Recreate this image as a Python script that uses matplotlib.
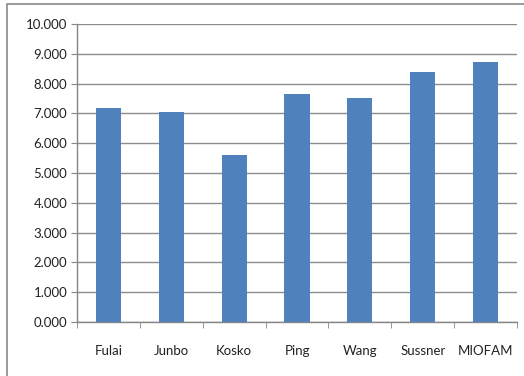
import matplotlib
matplotlib.use("Agg")
import matplotlib.pyplot as plt
from matplotlib.patches import Rectangle
from matplotlib.ticker import FixedLocator, FuncFormatter

categories = ["Fulai", "Junbo", "Kosko", "Ping", "Wang", "Sussner", "MIOFAM"]
values = [7.17, 7.04, 5.60, 7.64, 7.53, 8.40, 8.73]
yticks = [0, 1, 2, 3, 4, 5, 6, 7, 8, 9, 10]

plt.rcParams['font.family'] = ['Lato', 'DejaVu Sans']
W, H = 524, 376
fig = plt.figure(figsize=(W/100, H/100), dpi=100)
ax = fig.add_axes([77/W, 1-322/H, 440/W, 298/H])

x = list(range(len(categories)))
ax.bar(x, values, width=0.4, color="#4F81BD", zorder=3)
ax.set_xlim(-0.5, len(categories)-0.5)
ax.set_ylim(0, 10)
ax.set_yticks(yticks)
ax.yaxis.set_major_formatter(FuncFormatter(lambda v, p: f"{v:.3f}"))
ax.set_xticks(x)
ax.set_xticklabels(categories)
for lbl in ax.get_xticklabels():
    lbl.set_verticalalignment('baseline')
ax.xaxis.set_minor_locator(FixedLocator([i - 0.5 for i in range(len(categories)+1)]))
ax.tick_params(axis='x', which='major', length=0, pad=24, labelsize=9.5, colors='#222222')
ax.tick_params(axis='x', which='minor', length=4, color='#868686', direction='out')
ax.tick_params(axis='y', length=4, color='#868686', labelsize=9.5, labelcolor='#222222', pad=3)
ax.grid(axis='y', color='#8c8c8c', linewidth=1, zorder=0)
for s in ['top', 'right']:
    ax.spines[s].set_visible(False)
for s in ['left', 'bottom']:
    ax.spines[s].set_color('#868686')
    ax.spines[s].set_linewidth(1)

fig.patches.append(Rectangle((7/W, -0.1), 1.2, 1-4/H+0.1, transform=fig.transFigure,
                             fill=False, edgecolor='#8a8a8a', linewidth=1.2))
fig.savefig("out.png", dpi=100)
